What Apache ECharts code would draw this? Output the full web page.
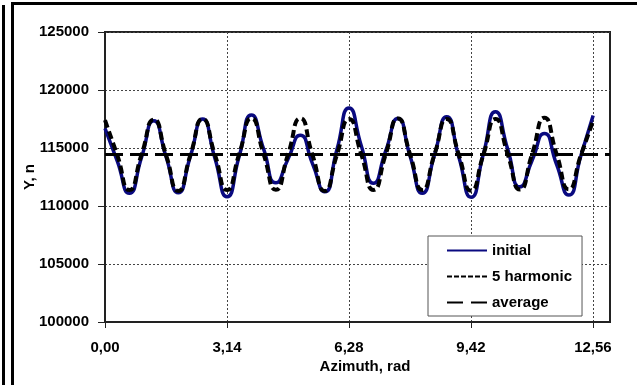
<!DOCTYPE html>
<html>
<head>
<meta charset="utf-8">
<script src="https://cdn.jsdelivr.net/npm/echarts@6/dist/echarts.min.js"></script>
<style>
html,body{margin:0;padding:0;background:#fff;}
#chart{width:637px;height:385px;}
</style>
</head>
<body>
<div id="chart"></div>
<script>
// Azimuth sample points (rad)
const azimuth = [0, 0.314, 0.628, 0.942, 1.257, 1.571, 1.885, 2.199, 2.513, 2.827,
  3.142, 3.456, 3.770, 4.084, 4.398, 4.712, 5.027, 5.341, 5.655, 5.969,
  6.283, 6.597, 6.912, 7.226, 7.540, 7.854, 8.168, 8.482, 8.796, 9.110,
  9.425, 9.739, 10.053, 10.367, 10.681, 10.996, 11.310, 11.624, 11.938, 12.252, 12.566];

const initialValues = [116700, 113900, 111100, 114200, 117350, 114250, 111150, 114300, 117500, 114150,
  110800, 114300, 117850, 114900, 112000, 114050, 116100, 113650, 111230, 114850,
  118450, 115200, 111960, 114750, 117550, 114300, 111100, 114400, 117700, 114200,
  110750, 114450, 118130, 114900, 111650, 113950, 116260, 113600, 110950, 114350, 117800];

const harmonicValues = [117400, 114400, 111380, 114450, 117450, 114400, 111300, 114400, 117500, 114450,
  111380, 114500, 117550, 114450, 111400, 114450, 117550, 114400, 111300, 114400,
  117500, 114450, 111380, 114450, 117550, 114450, 111380, 114450, 117500, 114400,
  111320, 114400, 117500, 114450, 111420, 114500, 117600, 114500, 111450, 114400, 117350];

const averageX = [0, 13];
const averageValues = [114450, 114450];

const xTickValues = [0, 3.14, 6.28, 9.42, 12.56];
const seriesNames = ['initial', '5 harmonic', 'average'];

const FONT = '"Liberation Sans", Arial, sans-serif';

const chart = echarts.init(document.getElementById('chart'), null, {renderer: 'canvas'});

const zip = (xs, ys) => xs.map((x, i) => [x, ys[i]]);

chart.setOption({
  animation: false,
  backgroundColor: '#ffffff',
  grid: {
    left: 105, top: 32, right: 27, bottom: 63,
    show: true, borderColor: '#222', borderWidth: 2, backgroundColor: 'transparent'
  },
  xAxis: {
    type: 'value',
    min: 0, max: 13, interval: 3.14,
    axisLine: {show: true, onZero: false, lineStyle: {color: '#222', width: 2}},
    axisTick: {show: true, length: 6, lineStyle: {color: '#222', width: 1}, customValues: xTickValues},
    axisLabel: {
      show: true, margin: 18, color: '#000', fontFamily: FONT, fontWeight: 'bold', fontSize: 15,
      customValues: xTickValues,
      formatter: v => v.toFixed(2).replace('.', ',')
    },
    splitLine: {show: true, lineStyle: {color: '#444', width: 1, type: [2, 2]}}
  },
  yAxis: {
    type: 'value',
    min: 100000, max: 125000, interval: 5000,
    axisLine: {show: true, lineStyle: {color: '#222', width: 2}},
    axisTick: {show: true, length: 7, lineStyle: {color: '#222', width: 1}},
    axisLabel: {show: true, margin: 16, color: '#000', fontFamily: FONT, fontWeight: 'bold', fontSize: 15,
      formatter: v => String(Math.round(v))},
    splitLine: {show: true, lineStyle: {color: '#444', width: 1, type: [2, 2]}}
  },
  legend: {
    orient: 'vertical',
    left: 428, top: 236,
    padding: [7, 10, 6, 18],
    itemWidth: 40, itemHeight: 14, itemGap: 11,
    backgroundColor: '#fff',
    borderColor: '#555', borderWidth: 1,
    itemStyle: {opacity: 0},
    textStyle: {color: '#000', fontFamily: FONT, fontWeight: 'bold', fontSize: 15, lineHeight: 14},
    data: [
      {name: seriesNames[0], itemStyle: {opacity: 0}, lineStyle: {width: 2}},
      {name: seriesNames[1], itemStyle: {opacity: 0}, lineStyle: {width: 2, type: [5, 2]}},
      {name: seriesNames[2], itemStyle: {opacity: 0}, lineStyle: {width: 2, type: [16, 8]}}
    ]
  },
  series: [
    {
      name: seriesNames[0], type: 'line', data: zip(azimuth, initialValues),
      smooth: 0.6, symbol: 'none', z: 2,
      lineStyle: {color: '#0a0a80', width: 3.5},
      itemStyle: {color: '#0a0a80'}
    },
    {
      name: seriesNames[1], type: 'line', data: zip(azimuth, harmonicValues),
      smooth: 0.6, symbol: 'none', z: 3,
      lineStyle: {color: '#000', width: 4, type: [8, 4]},
      itemStyle: {color: '#000'}
    },
    {
      name: seriesNames[2], type: 'line', data: zip(averageX, averageValues),
      symbol: 'none', z: 4,
      lineStyle: {color: '#000', width: 3, type: [18, 7]},
      itemStyle: {color: '#000'}
    }
  ],
  graphic: [
    {type: 'rect', shape: {x: 2, y: 5, width: 3, height: 380}, style: {fill: '#000'}, silent: true},
    {type: 'rect', shape: {x: 11, y: 2, width: 3, height: 383}, style: {fill: '#000'}, silent: true},
    {type: 'rect', shape: {x: 11, y: 2, width: 626, height: 3}, style: {fill: '#000'}, silent: true},
    {type: 'text', x: 365, y: 367, style: {text: 'Azimuth, rad', fill: '#000', font: 'bold 15px ' + FONT, align: 'center', verticalAlign: 'middle'}, silent: true},
    {type: 'text', x: 30, y: 177, rotation: Math.PI / 2, style: {text: 'Y, n', fill: '#000', font: 'bold 15px ' + FONT, align: 'center', verticalAlign: 'middle'}, silent: true}
  ]
});
</script>
</body>
</html>
